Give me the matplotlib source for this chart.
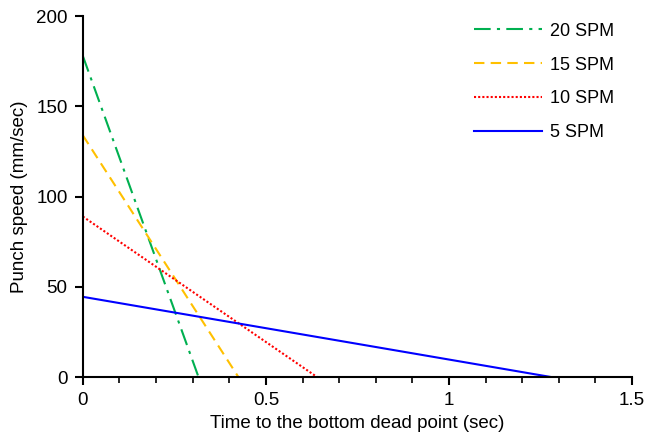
import numpy as np
import matplotlib.pyplot as plt
from matplotlib.ticker import MultipleLocator

plt.rcParams['font.family'] = ['Liberation Sans', 'DejaVu Sans']

# Speed curves: time to bottom dead point (sec) vs punch speed (mm/sec)
labels = ['20 SPM', '15 SPM', '10 SPM', '5 SPM']
t_20 = [0.0, 0.316]
v_20 = [178.0, 0.0]
t_15 = [0.0, 0.425]
v_15 = [134.0, 0.0]
t_10 = [0.0, 0.64]
v_10 = [89.0, 0.0]
t_5 = [0.0, 1.28]
v_5 = [44.5, 0.0]

fig = plt.figure(figsize=(6.47, 4.38), dpi=100)
ax = fig.add_axes([0.128, 0.139, 0.849, 0.824])

ax.plot(t_20, v_20, color='#00B050', lw=1.5, ls=(0, (8, 3, 1.5, 3)), label=labels[0])
ax.plot(t_15, v_15, color='#FFC000', lw=1.5, ls=(0, (5, 3)), label=labels[1])
ax.plot(t_10, v_10, color='#FF0000', lw=1.5, ls=(0, (1, 1)), label=labels[2])
ax.plot(t_5, v_5, color='#0000FF', lw=1.5, ls='-', label=labels[3])

ax.set_xlim(0, 1.5)
ax.set_ylim(0, 200)
ax.xaxis.set_major_locator(MultipleLocator(0.5))
ax.xaxis.set_minor_locator(MultipleLocator(0.1))
ax.yaxis.set_major_locator(MultipleLocator(50))
ax.set_xticks([0, 0.5, 1, 1.5])
ax.set_xticklabels(['0', '0.5', '1', '1.5'])

for side in ['top', 'right']:
    ax.spines[side].set_visible(False)
for side in ['left', 'bottom']:
    ax.spines[side].set_linewidth(1.5)
ax.tick_params(which='major', length=6, width=1.5, labelsize=13.5, pad=5)
ax.tick_params(which='minor', length=4, width=1.2)

ax.set_xlabel('Time to the bottom dead point (sec)', fontsize=13.5, labelpad=4)
ax.set_ylabel('Punch speed (mm/sec)', fontsize=13.5, labelpad=6)

ax.legend(loc='upper left', bbox_to_anchor=(0.682, 1.027), frameon=False,
          fontsize=13, handlelength=3.8, labelspacing=0.93, handletextpad=0.45)

fig.savefig('out.png', dpi=100)
